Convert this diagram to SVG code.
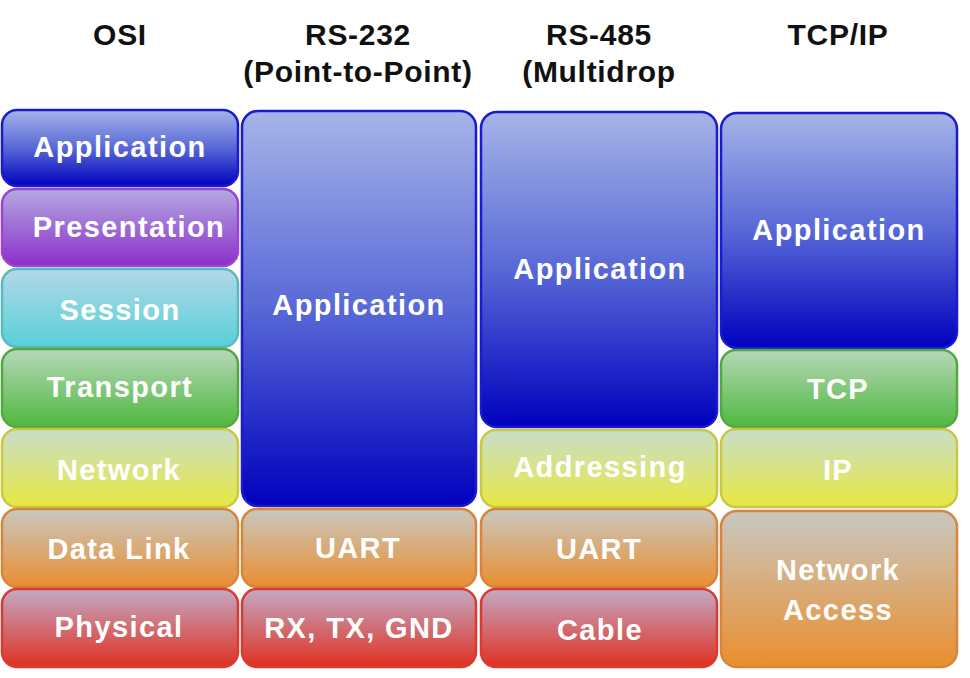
<svg xmlns="http://www.w3.org/2000/svg" width="970" height="678" viewBox="0 0 970 678">
<defs>
<linearGradient id="gBlue" x1="0" y1="0" x2="0" y2="1"><stop offset="0" stop-color="#a6b4e8"/><stop offset="0.5" stop-color="#5868d6"/><stop offset="1" stop-color="#0000be"/></linearGradient>
<linearGradient id="gPurple" x1="0" y1="0" x2="0" y2="1"><stop offset="0" stop-color="#b4aae2"/><stop offset="1" stop-color="#8a2ec8"/></linearGradient>
<linearGradient id="gCyan" x1="0" y1="0" x2="0" y2="1"><stop offset="0" stop-color="#b2d8e8"/><stop offset="1" stop-color="#58d0d8"/></linearGradient>
<linearGradient id="gGreen" x1="0" y1="0" x2="0" y2="1"><stop offset="0" stop-color="#b6d8b8"/><stop offset="1" stop-color="#50b840"/></linearGradient>
<linearGradient id="gYellow" x1="0" y1="0" x2="0" y2="1"><stop offset="0" stop-color="#c8deca"/><stop offset="1" stop-color="#e8e840"/></linearGradient>
<linearGradient id="gOrange" x1="0" y1="0" x2="0" y2="1"><stop offset="0" stop-color="#c8c8c2"/><stop offset="1" stop-color="#ea8e2e"/></linearGradient>
<linearGradient id="gRed" x1="0" y1="0" x2="0" y2="1"><stop offset="0" stop-color="#c2aac6"/><stop offset="1" stop-color="#e03020"/></linearGradient>
</defs>
<style>
rect{stroke-width:2.5}
.blue{fill:url(#gBlue);stroke:#1a1ad0}
.purple{fill:url(#gPurple);stroke:#9a44d4}
.cyan{fill:url(#gCyan);stroke:#5cb8c0}
.green{fill:url(#gGreen);stroke:#54a844}
.yellow{fill:url(#gYellow);stroke:#c8c844}
.orange{fill:url(#gOrange);stroke:#d8843a}
.red{fill:url(#gRed);stroke:#d83c30}
.hd{font-family:"Liberation Sans",Arial,sans-serif;font-weight:bold;font-size:30px;letter-spacing:0.7px;fill:#111;text-anchor:middle}
.lb{font-family:"Liberation Sans",Arial,sans-serif;font-weight:bold;font-size:29px;letter-spacing:1.4px;fill:#fff;text-anchor:middle}
</style>
<rect width="970" height="678" fill="#fff" stroke="none"/>
<g id="headers">
<text class="hd" x="120" y="45">OSI</text>
<text class="hd" x="358" y="45">RS-232</text>
<text class="hd" x="358" y="82">(Point-to-Point)</text>
<text class="hd" x="599" y="45">RS-485</text>
<text class="hd" x="599" y="82">(Multidrop</text>
<text class="hd" x="838" y="45">TCP/IP</text>
</g>
<g id="osi-application"><rect class="blue" x="2" y="110" width="236" height="76" rx="15"/><text class="lb" x="120" y="157">Application</text></g>
<g id="osi-presentation"><rect class="purple" x="2" y="189" width="236" height="77" rx="15"/><text class="lb" x="129" y="237">Presentation</text></g>
<g id="osi-session"><rect class="cyan" x="2" y="269" width="236" height="78" rx="15"/><text class="lb" x="120" y="320">Session</text></g>
<g id="osi-transport"><rect class="green" x="2" y="349" width="236" height="78" rx="15"/><text class="lb" x="120" y="397">Transport</text></g>
<g id="osi-network"><rect class="yellow" x="2" y="429" width="236" height="78" rx="15"/><text class="lb" x="119" y="480">Network</text></g>
<g id="osi-datalink"><rect class="orange" x="2" y="509" width="236" height="78" rx="15"/><text class="lb" x="119" y="559">Data Link</text></g>
<g id="osi-physical"><rect class="red" x="2" y="589" width="236" height="78" rx="15"/><text class="lb" x="119" y="637">Physical</text></g>

<g id="rs232-application"><rect class="blue" x="242" y="111" width="234" height="395" rx="16"/><text class="lb" x="359" y="315">Application</text></g>
<g id="rs232-uart"><rect class="orange" x="242" y="509" width="234" height="78" rx="15"/><text class="lb" x="358" y="558">UART</text></g>
<g id="rs232-physical"><rect class="red" x="242" y="589" width="234" height="78" rx="15"/><text class="lb" x="359" y="638">RX, TX, GND</text></g>

<g id="rs485-application"><rect class="blue" x="481" y="112" width="236" height="315" rx="16"/><text class="lb" x="600" y="279">Application</text></g>
<g id="rs485-addressing"><rect class="yellow" x="481" y="430" width="236" height="77" rx="15"/><text class="lb" x="600" y="477">Addressing</text></g>
<g id="rs485-uart"><rect class="orange" x="481" y="509" width="236" height="78" rx="15"/><text class="lb" x="599" y="559">UART</text></g>
<g id="rs485-cable"><rect class="red" x="481" y="589" width="236" height="78" rx="15"/><text class="lb" x="600" y="640">Cable</text></g>

<g id="tcp-application"><rect class="blue" x="721" y="113" width="236" height="235" rx="16"/><text class="lb" x="839" y="240">Application</text></g>
<g id="tcp-tcp"><rect class="green" x="721" y="350" width="236" height="77" rx="15"/><text class="lb" x="838" y="399">TCP</text></g>
<g id="tcp-ip"><rect class="yellow" x="721" y="429" width="236" height="78" rx="15"/><text class="lb" x="838" y="480">IP</text></g>
<g id="tcp-netaccess"><rect class="orange" x="721" y="511" width="236" height="156" rx="16"/><text class="lb" x="838" y="580">Network</text><text class="lb" x="838" y="620">Access</text></g>
<g id="connectors"/>
</svg>
